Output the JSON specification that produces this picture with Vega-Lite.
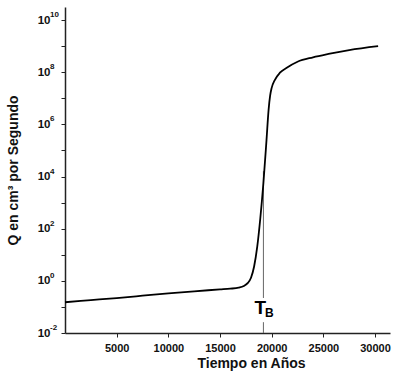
{
  "$schema": "https://vega.github.io/schema/vega-lite/v6.json",
  "width": 325,
  "height": 326,
  "autosize": {"type": "none"},
  "padding": {"left": 65, "top": 7, "right": 10, "bottom": 42},
  "background": "white",
  "config": {
    "view": {"stroke": null},
    "font": "Liberation Sans",
    "axis": {
      "grid": false,
      "domainColor": "#222",
      "domainWidth": 1.5,
      "tickColor": "#222",
      "tickSize": 4,
      "labelFont": "Liberation Sans",
      "labelFontWeight": "bold",
      "labelFontSize": 11,
      "labelColor": "#111",
      "titleFont": "Liberation Sans",
      "titleFontWeight": "bold",
      "titleFontSize": 14,
      "titleColor": "#111"
    }
  },
  "datasets": {
    "curve": [
      {"t": 0, "q": 0.151},
      {"t": 2500, "q": 0.182},
      {"t": 5000, "q": 0.219},
      {"t": 7500, "q": 0.269},
      {"t": 10000, "q": 0.331},
      {"t": 12500, "q": 0.398},
      {"t": 15000, "q": 0.468},
      {"t": 16000, "q": 0.501},
      {"t": 16800, "q": 0.55},
      {"t": 17300, "q": 0.631},
      {"t": 17700, "q": 0.832},
      {"t": 18000, "q": 1.318},
      {"t": 18300, "q": 3.548},
      {"t": 18600, "q": 19.95},
      {"t": 18900, "q": 251.2},
      {"t": 19200, "q": 5623},
      {"t": 19500, "q": 251200},
      {"t": 19700, "q": 3548000},
      {"t": 19850, "q": 12590000},
      {"t": 20000, "q": 25120000},
      {"t": 20300, "q": 50120000},
      {"t": 20800, "q": 95500000},
      {"t": 21500, "q": 151400000},
      {"t": 22500, "q": 251200000},
      {"t": 24000, "q": 371500000},
      {"t": 25500, "q": 501200000},
      {"t": 27500, "q": 707900000},
      {"t": 30300, "q": 1000000000}
    ],
    "marker": [
      {"t": 19200, "q": 0.01, "q2": 0.026},
      {"t": 19200, "q": 0.22, "q2": 16000}
    ],
    "label": [
      {"t": 19200, "q": 0.09, "main": "T", "sub": "B", "qs": 0.058}
    ],
    "exponents": [
      {"t": 0, "q": 0.01, "e": "-2"},
      {"t": 0, "q": 1, "e": "0"},
      {"t": 0, "q": 100, "e": "2"},
      {"t": 0, "q": 10000, "e": "4"},
      {"t": 0, "q": 1000000, "e": "6"},
      {"t": 0, "q": 100000000, "e": "8"},
      {"t": 0, "q": 10000000000, "e": "10"}
    ]
  },
  "layer": [
    {
      "data": {"name": "marker"},
      "mark": {"type": "rule", "color": "#666", "strokeWidth": 1},
      "encoding": {
        "x": {"field": "t", "type": "quantitative"},
        "y": {"field": "q", "type": "quantitative"},
        "y2": {"field": "q2"}
      }
    },
    {
      "data": {"name": "curve"},
      "mark": {"type": "line", "color": "#000", "strokeWidth": 1.8, "interpolate": "monotone"},
      "encoding": {
        "x": {
          "field": "t", "type": "quantitative",
          "scale": {"domain": [0, 31450], "nice": false, "zero": false},
          "axis": {
            "values": [5000, 10000, 15000, 20000, 25000, 30000],
            "format": "d",
            "title": "Tiempo en Años",
            "titleX": 186,
            "titleY": 23,
            "labelPadding": 5
          }
        },
        "y": {
          "field": "q", "type": "quantitative",
          "scale": {"type": "log", "domain": [0.01, 31622776601], "nice": false},
          "axis": {
            "values": [0.01, 0.1, 1, 10, 100, 1000, 10000, 100000, 1000000, 10000000, 100000000, 1000000000, 10000000000],
            "labelExpr": "(datum.value == 0.01 || datum.value == 1 || datum.value == 100 || datum.value == 10000 || datum.value == 1000000 || datum.value == 100000000 || datum.value == 10000000000) ? '10' : ''",
            "labelFontSize": 11.5,
            "labelPadding": 11,
            "title": "Q en cm³ por Segundo",
            "titleX": -45
          }
        }
      }
    },
    {
      "data": {"name": "exponents"},
      "mark": {"type": "text", "fontSize": 8, "fontWeight": "bold", "font": "Liberation Sans", "color": "#111", "align": "left", "baseline": "middle", "dx": -15, "dy": -5},
      "encoding": {
        "x": {"field": "t", "type": "quantitative"},
        "y": {"field": "q", "type": "quantitative"},
        "text": {"field": "e"}
      }
    },
    {
      "data": {"name": "label"},
      "mark": {"type": "text", "fontSize": 19, "fontWeight": "bold", "font": "Liberation Sans", "color": "#000", "dx": -3, "baseline": "middle"},
      "encoding": {
        "x": {"field": "t", "type": "quantitative"},
        "y": {"field": "q", "type": "quantitative"},
        "text": {"field": "main"}
      }
    },
    {
      "data": {"name": "label"},
      "mark": {"type": "text", "fontSize": 12, "fontWeight": "bold", "font": "Liberation Sans", "color": "#000", "dx": 6, "baseline": "middle"},
      "encoding": {
        "x": {"field": "t", "type": "quantitative"},
        "y": {"field": "qs", "type": "quantitative"},
        "text": {"field": "sub"}
      }
    }
  ]
}
